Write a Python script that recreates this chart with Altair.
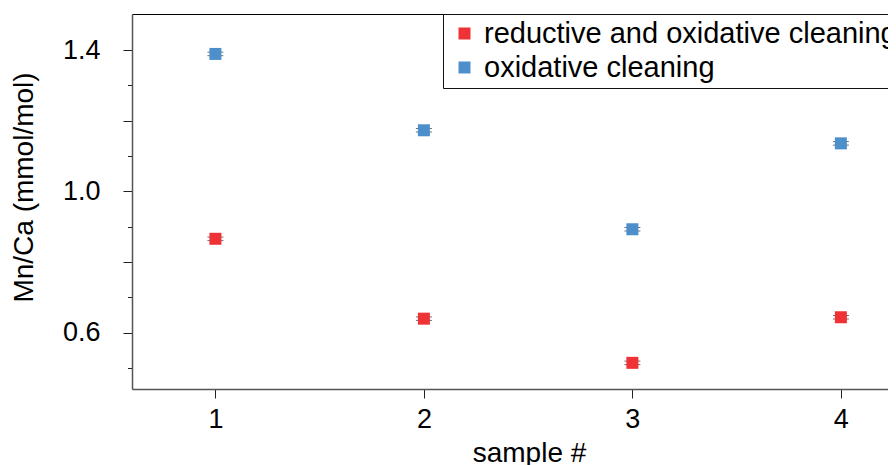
import altair as alt
import pandas as pd

samples = [1, 2, 3, 4]
red_vals = [0.866, 0.640, 0.515, 0.644]
blue_vals = [1.389, 1.173, 0.893, 1.136]
red_err = [0.005, 0.005, 0.005, 0.005]
blue_err = [0.005, 0.005, 0.005, 0.005]
series = ["reductive and oxidative cleaning", "oxidative cleaning"]
colors = ["#EE3236", "#4D8FCB"]
y_ticks = [0.5, 0.6, 0.7, 0.8, 0.9, 1.0, 1.1, 1.2, 1.3, 1.4]
x_ticks = [1, 2, 3, 4]

rows = []
for s, v, e in zip(samples, red_vals, red_err):
    rows.append({"sample": s, "value": v, "lo": v - e, "hi": v + e, "series": series[0]})
for s, v, e in zip(samples, blue_vals, blue_err):
    rows.append({"sample": s, "value": v, "lo": v - e, "hi": v + e, "series": series[1]})
df = pd.DataFrame(rows)

FONT = "Liberation Sans"

xscale = alt.Scale(domain=[0.6, 4.226], nice=False, zero=False)
yscale = alt.Scale(domain=[0.441, 1.502], nice=False, zero=False)

yaxis = alt.Axis(
    values=y_ticks,
    title="Mn/Ca (mmol/mol)",
    labelExpr="(abs(datum.value-1.4)<0.001 || abs(datum.value-1.0)<0.001 || abs(datum.value-0.6)<0.001) ? format(datum.value,'.1f') : ''",
    tickSize={"condition": {"test": "round(datum.value*10) % 2 == 0", "value": 9}, "value": 4.5},
    tickColor="#222",
    tickWidth=1,
    domainColor="#555",
    domainWidth=1.5,
    grid=False,
    labelFontSize=27,
    labelPadding=23,
    labelColor="black",
    titleFontSize=28,
    titleFontWeight="normal",
    titleColor="black",
    titleX=-94,
    titleY=173,
)

bottom_axis = alt.Axis(
    values=x_ticks,
    format="d",
    title="sample #",
    tickSize=9,
    tickColor="#222",
    tickWidth=1,
    domainColor="#555",
    domainWidth=1.5,
    grid=False,
    labelFontSize=27,
    labelPadding=8,
    labelColor="black",
    titleFontSize=28,
    titleFontWeight="normal",
    titleColor="black",
    titleX=397,
    titleY=50,
)

top_axis = alt.Axis(
    orient="top",
    title=None,
    labels=False,
    ticks=False,
    grid=False,
    domainColor="black",
    domainWidth=1.2,
)

base = alt.Chart(df)

bars = base.mark_errorbar(ticks={"size": 16, "color": "#333", "thickness": 1}, color="#333").encode(
    x=alt.X("sample:Q", scale=xscale, axis=top_axis),
    y=alt.Y("lo:Q", scale=yscale, axis=yaxis),
    y2="hi:Q",
)

points = base.mark_point(shape="square", filled=True, size=144, opacity=1, strokeWidth=0).encode(
    x=alt.X("sample:Q", scale=xscale, axis=bottom_axis),
    y=alt.Y("value:Q", scale=yscale, axis=yaxis),
    color=alt.Color(
        "series:N",
        scale=alt.Scale(domain=series, range=colors),
        legend=alt.Legend(
            title=None,
            orient="none",
            legendX=311,
            legendY=0,
            strokeColor="#111",
            fillColor="white",
            padding=5,
            symbolOffset=2,
            symbolType="square",
            symbolSize=144,
            symbolStrokeWidth=0,
            labelFontSize=29,
            labelOffset=5,
            labelLimit=800,
            labelColor="black",
            rowPadding=4,
        ),
    ),
)

chart = (
    alt.layer(bars, points)
    .resolve_axis(x="independent")
    .properties(
        width=756,
        height=375,
        autosize=alt.AutoSizeParams(type="none"),
        padding={"left": 124, "top": 6, "right": 0, "bottom": 76},
    )
    .configure(font=FONT)
    .configure_view(stroke=None)
)

chart.save("out.html", embed_options={"renderer": "svg", "actions": False})
